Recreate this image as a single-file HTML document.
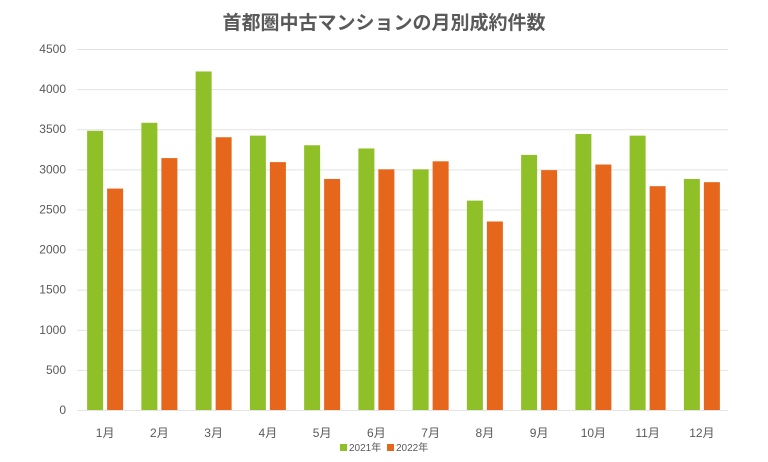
<!DOCTYPE html>
<html><head><meta charset="utf-8"><style>
body{margin:0;background:#fff;}
svg{display:block;font-family:"Liberation Sans","Noto Sans CJK JP",sans-serif;}
</style></head><body>
<svg width="768" height="462" viewBox="0 0 768 462">
<rect width="768" height="462" fill="#fff"/>
<text x="384" y="29" text-anchor="middle" font-size="19" font-weight="bold" fill="#595959">首都圏中古マンションの月別成約件数</text>
<g id="grid" stroke="#e3e3e3" stroke-width="1"></g>
<g id="ylab" font-size="12" fill="#595959" text-anchor="end"></g>
<g id="bars"></g>
<g id="xlab" font-size="12" fill="#595959" text-anchor="middle"></g>
<rect x="340" y="444" width="7" height="7" fill="#8fc027"/>
<text x="349" y="451" font-size="10" fill="#595959">2021年</text>
<rect x="387" y="444" width="7" height="7" fill="#e6661b"/>
<text x="396" y="451" font-size="10" fill="#595959">2022年</text>
</svg>
<script>
var ns="http://www.w3.org/2000/svg";
function el(p,t,a,txt){var e=document.createElementNS(ns,t);for(var k in a)e.setAttribute(k,a[k]);if(txt)e.textContent=txt;document.getElementById(p).appendChild(e);}
var y0=410,s=361/4500;
for(var v=0;v<=4500;v+=500){var y=y0-v*s;el('grid','line',{x1:77,x2:728,y1:y+0.5,y2:y+0.5});el('ylab','text',{x:66,y:y+4},String(v));}
var a=[3480,3580,4220,3420,3300,3260,3000,2610,3180,3440,3420,2880];
var b=[2760,3140,3400,3090,2880,3000,3100,2350,2990,3060,2790,2840];
var w=54.25;
for(var i=0;i<12;i++){var c=77+w*(i+0.5);
el('bars','rect',{x:c-17,y:y0-a[i]*s,width:16,height:a[i]*s,fill:'#8fc027'});
el('bars','rect',{x:c+3,y:y0-b[i]*s,width:16,height:b[i]*s,fill:'#e6661b'});
el('xlab','text',{x:c+1,y:437},(i+1)+'月');}
</script>
</body></html>
